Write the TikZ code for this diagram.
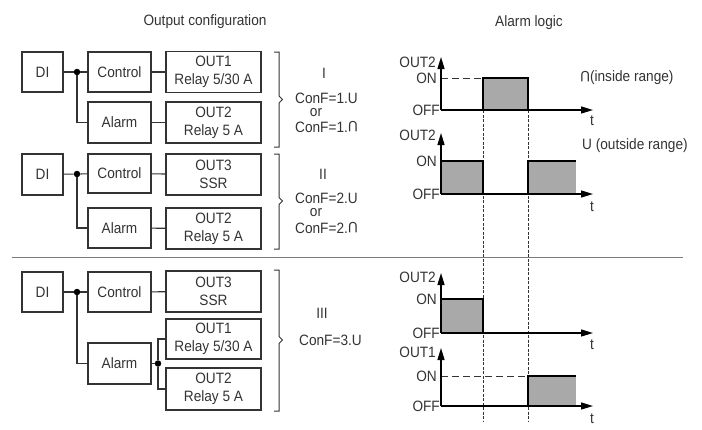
\documentclass[tikz,border=0pt]{standalone}
\usepackage{fontspec}
\usepackage{graphicx}
\setmainfont{Liberation Sans}[FakeStretch=0.91]
\usetikzlibrary{arrows.meta}
\definecolor{ink}{HTML}{333333}
\definecolor{fillg}{HTML}{A9A9A9}
\definecolor{sepg}{HTML}{7A7A7A}
\newcommand{\capsym}{\rotatebox[origin=c]{180}{U}}
\begin{document}
\begin{tikzpicture}[x=1pt,y=-1pt,
  font=\fontsize{15}{17.7}\selectfont, text=ink,
  box/.style={draw=ink, line width=1.1pt, inner sep=0pt, align=center},
  dibox/.style={box, minimum width=41pt, minimum height=40pt},
  fbox/.style={box, minimum width=63pt, minimum height=40pt},
  obox/.style={box, minimum width=95pt, minimum height=41pt},
  wire/.style={draw=ink, line width=1.1pt},
  jdot/.style={circle, fill=black, inner sep=0pt, minimum size=6.5pt},
  brk/.style={draw=ink, line width=1pt},
  lbl/.style={inner sep=0pt},
  axis/.style={draw=black, line width=1.4pt, -{Triangle[length=12pt,width=7pt]}},
  sig/.style={draw=black, line width=1.3pt},
  vdash/.style={draw=ink, line width=0.9pt, dash pattern=on 3pt off 1.5pt},
  hdash/.style={draw=ink, line width=0.9pt, dash pattern=on 7pt off 4pt},
  sepline/.style={draw=sepg, line width=1.3pt}
]
\useasboundingbox (0,0) rectangle (702,429);

% titles
\node[lbl] (t1) at (205,22) {Output configuration};
\node[lbl] (t2) at (529,23) {Alarm logic};

% ---------- Section I
\node[dibox] (d1) at (42.5,72) {DI};
\node[jdot] (j1) at (77,72) {};
\node[fbox] (c1) at (119.5,72) {Control};
\node[obox] (o1a) at (213.5,72) {OUT1\\Relay 5/30 A};
\node[fbox, minimum height=41pt] (a1) at (119.5,122.5) {Alarm};
\node[obox] (o1b) at (213.5,122.5) {OUT2\\Relay 5 A};
\draw[wire] (d1) -- (j1);
\draw[wire] (j1) -- (c1);
\draw[wire] (c1) -- (o1a);
\draw[wire] (j1) |- (a1);
\draw[wire] (a1) -- (o1b);
\draw[brk] (274,52) -- (279,52) -- (279,96) -- (282.5,99.5) -- (279,103) -- (279,147) -- (274,147);
\node[lbl] (r1) at (324,73) {I};
\node[lbl, anchor=west] (cf1a) at (295,98) {ConF=1.U};
\node[lbl] (or1) at (316,113) {or};
\node[lbl, anchor=west] (cf1b) at (295,127) {ConF=1.\capsym};

% ---------- Section II
\node[dibox, minimum height=41pt] (d2) at (42.5,174.5) {DI};
\node[jdot] (j2) at (77,174) {};
\node[fbox, minimum height=39pt] (c2) at (119.5,173.5) {Control};
\node[obox] (o2a) at (213.5,174.5) {OUT3\\SSR};
\node[fbox] (a2) at (119.5,228) {Alarm};
\node[obox] (o2b) at (213.5,228.5) {OUT2\\Relay 5 A};
\draw[wire] (d2) -- (j2);
\draw[wire] (j2) -- (c2);
\draw[wire] (c2) -- (o2a);
\draw[wire] (j2) |- (a2);
\draw[wire] (a2) -- (o2b);
\draw[brk] (274,154) -- (279,154) -- (279,197.5) -- (282.5,201) -- (279,204.5) -- (279,249) -- (274,249);
\node[lbl] (r2) at (323,174) {II};
\node[lbl, anchor=west] (cf2a) at (295,198) {ConF=2.U};
\node[lbl] (or2) at (316,213) {or};
\node[lbl, anchor=west] (cf2b) at (295,228) {ConF=2.\capsym};

% separator
\draw[sepline] (12,257.5) -- (683,257.5);

% ---------- Section III
\node[dibox] (d3) at (42.5,292) {DI};
\node[jdot] (j3) at (77,292) {};
\node[fbox] (c3) at (119.5,292) {Control};
\node[obox] (o3a) at (213.5,291.5) {OUT3\\SSR};
\node[fbox, minimum height=41pt] (a3) at (119.5,363.5) {Alarm};
\node[jdot] (k3) at (158,363.5) {};
\node[obox, minimum height=40pt] (o3b) at (213.5,339) {OUT1\\Relay 5/30 A};
\node[obox, minimum height=42pt] (o3c) at (213.5,389) {OUT2\\Relay 5 A};
\draw[wire] (d3) -- (j3);
\draw[wire] (j3) -- (c3);
\draw[wire] (c3) -- (o3a);
\draw[wire] (j3) |- (a3);
\draw[wire] (a3) -- (k3);
\draw[wire] (k3) |- (o3b);
\draw[wire] (k3) |- (o3c);
\draw[brk] (274,270) -- (279,270) -- (279,336.5) -- (282.5,340) -- (279,343.5) -- (279,411) -- (274,411);
\node[lbl] (r3) at (322,313) {III};
\node[lbl, anchor=west] (cf3) at (299,340) {ConF=3.U};

% ---------- Alarm logic graphs
% vertical dashed guide lines
\draw[vdash] (483,110) -- (483,421);
\draw[vdash] (528,110) -- (528,421);

% graph 1: inside range
\coordinate (g1o) at (441,110);
\coordinate (g1y) at (441,57);
\coordinate (g1x) at (593,110);
\fill[fillg] (483,78) rectangle (528,110);
\draw[hdash] (441,78) -- (483,78);
\draw[sig] (483,110) -- (483,78) -- (528,78) -- (528,110);
\draw[axis] (g1o) -- (g1y);
\draw[axis] (g1o) -- (g1x);
\node[lbl, anchor=east] (g1n) at (436,62) {OUT2};
\node[lbl, anchor=east] (g1on) at (437,78) {ON};
\node[lbl, anchor=east] (g1off) at (440,110) {OFF};
\node[lbl] (g1t) at (592,120.5) {t};
\node[lbl, anchor=west] (g1d) at (580,78) {\capsym(inside range)};

% graph 2: outside range
\coordinate (g2o) at (441,194);
\coordinate (g2y) at (441,133);
\coordinate (g2x) at (593,194);
\fill[fillg] (441,161) rectangle (483,194);
\fill[fillg] (528,161) rectangle (576,194);
\draw[sig] (441,161) -- (483,161) -- (483,194);
\draw[sig] (528,194) -- (528,161) -- (576,161);
\draw[axis] (g2o) -- (g2y);
\draw[axis] (g2o) -- (g2x);
\node[lbl, anchor=east] (g2n) at (436,135) {OUT2};
\node[lbl, anchor=east] (g2on) at (437,161) {ON};
\node[lbl, anchor=east] (g2off) at (440,194) {OFF};
\node[lbl] (g2t) at (592,207) {t};
\node[lbl, anchor=west] (g2d) at (582,146) {U (outside range)};

% graph 3: OUT2, mode III
\coordinate (g3o) at (441,333);
\coordinate (g3y) at (441,273);
\coordinate (g3x) at (593,333);
\fill[fillg] (441,299) rectangle (483,333);
\draw[sig] (441,299) -- (483,299) -- (483,333);
\draw[axis] (g3o) -- (g3y);
\draw[axis] (g3o) -- (g3x);
\node[lbl, anchor=east] (g3n) at (436,277) {OUT2};
\node[lbl, anchor=east] (g3on) at (437,299) {ON};
\node[lbl, anchor=east] (g3off) at (440,333) {OFF};
\node[lbl] (g3t) at (592,345) {t};

% graph 4: OUT1, mode III
\coordinate (g4o) at (441,406);
\coordinate (g4y) at (441,348);
\coordinate (g4x) at (593,406);
\fill[fillg] (528,376) rectangle (576,406);
\draw[hdash] (441,376) -- (528,376);
\draw[sig] (528,406) -- (528,376) -- (576,376);
\draw[axis] (g4o) -- (g4y);
\draw[axis] (g4o) -- (g4x);
\node[lbl, anchor=east] (g4n) at (436,352) {OUT1};
\node[lbl, anchor=east] (g4on) at (437,376) {ON};
\node[lbl, anchor=east] (g4off) at (440,406) {OFF};
\node[lbl] (g4t) at (592,418.5) {t};
\end{tikzpicture}
\end{document}
